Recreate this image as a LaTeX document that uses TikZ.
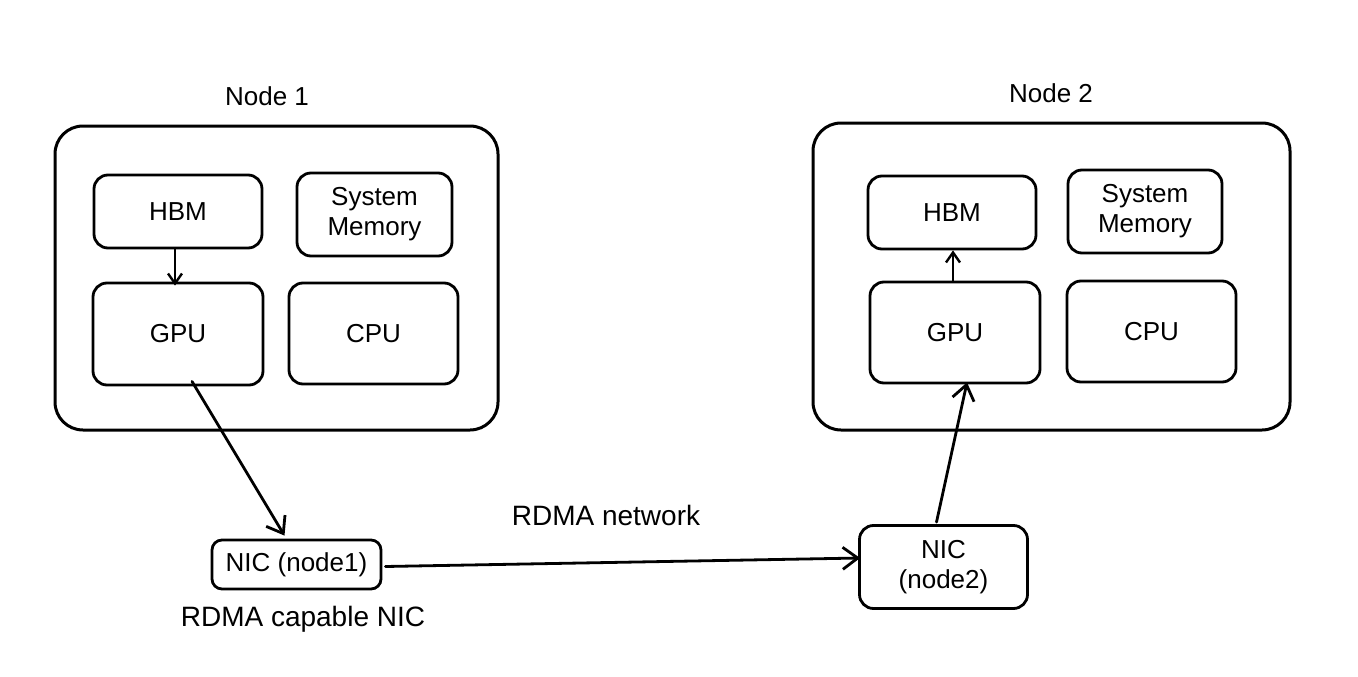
\documentclass[tikz,border=0pt]{standalone}
\usepackage{fontspec}
\setmainfont{Liberation Sans}
\usetikzlibrary{arrows.meta,calc}
\tikzset{
  outerbox/.style={draw, line width=3pt, rounded corners=28pt, inner sep=0pt},
  innerbox/.style={draw, line width=2.8pt, rounded corners=14pt, inner sep=0pt, align=center, font=\fontsize{26}{30}\selectfont},
  lbl/.style={inner sep=0pt, font=\fontsize{26}{30}\selectfont},
  biglbl/.style={inner sep=0pt, font=\fontsize{28}{32}\selectfont},
  arr/.style={line width=2.8pt, line cap=round, line join=round, -{Straight Barb[length=15pt,width=22pt,line width=2.8pt]}},
  sarr/.style={line width=2.4pt, line cap=round, line join=round, -{Straight Barb[length=10pt,width=14pt,line width=2.4pt]}}
}
\begin{document}
\begin{tikzpicture}[x=1pt,y=-1pt]
\useasboundingbox[fill=white] (0,0) rectangle (1358,677);
% outer boxes
\node[outerbox, minimum width=443pt, minimum height=304pt] (outer1) at (276.5,278) {};
\node[outerbox, minimum width=477pt, minimum height=307pt] (outer2) at (1051.5,276.5) {};
% titles
\node[lbl] (title1) at (267,96) {Node 1};
\node[lbl] (title2) at (1051,93) {Node 2};
% node 1 inner
\node[innerbox, minimum width=168pt, minimum height=73pt] (hbm1) at (178,211.5) {HBM};
\node[innerbox, minimum width=155pt, minimum height=83pt] (mem1) at (374.5,214.5) {System\\Memory};
\node[innerbox, minimum width=170pt, minimum height=102pt] (gpu1) at (178,334) {GPU};
\node[innerbox, minimum width=169pt, minimum height=101pt] (cpu1) at (373.5,333.5) {CPU};
% node 2 inner
\node[innerbox, minimum width=168pt, minimum height=73pt] (hbm2) at (952,212.5) {HBM};
\node[innerbox, minimum width=154pt, minimum height=83pt] (mem2) at (1145,211.5) {System\\Memory};
\node[innerbox, minimum width=170pt, minimum height=101pt] (gpu2) at (955,332.5) {GPU};
\node[innerbox, minimum width=169pt, minimum height=101pt] (cpu2) at (1151.5,331.5) {CPU};
% NICs
\node[innerbox, rounded corners=10pt, minimum width=169pt, minimum height=49pt] (nic1) at (296.5,564.5) {NIC (node1)};
\node[innerbox, minimum width=168pt, minimum height=83pt] (nic2) at (943.5,567) {NIC\\(node2)};
% labels
\node[biglbl] (netlbl) at (606,515) {RDMA network};
\node[biglbl] (niclbl) at (303,619) {RDMA capable NIC};
% arrows
\draw[sarr] ($(hbm1.south)+(-3,0)$) -- ($(gpu1.north)+(-3,4)$);
\draw[sarr] ($(gpu2.north)+(-2,0)$) -- ($(hbm2.south)+(1,0)$);
\draw[arr] ($(gpu1.south)+(14,-5)$) -- ($(nic1.north)+(-12,-3)$);
\draw[arr] ($(nic1.east)+(3,2)$) -- ($(nic2.west)+(2,-9)$);
\draw[arr] ($(nic2.north)+(-7,-2)$) -- ($(gpu2.south)+(12,-2)$);
\end{tikzpicture}
\end{document}
